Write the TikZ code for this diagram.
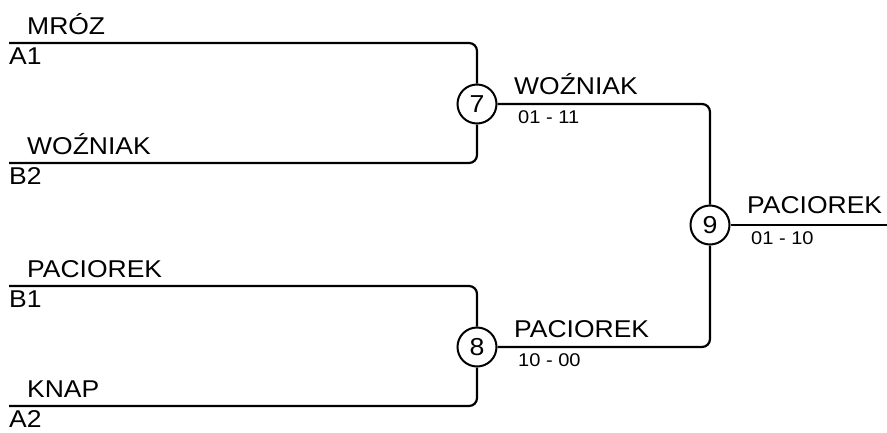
\documentclass[tikz,border=0pt]{standalone}
\usepackage{fontspec}
\setmainfont{Liberation Sans}
\newfontfamily\namefont[FakeStretch=1.09]{Liberation Sans}
\begin{document}
\begin{tikzpicture}[x=1pt,y=-1pt,
  wire/.style={line width=2.2pt, rounded corners=8pt},
  match/.style={circle, draw, line width=2pt, minimum size=39pt, inner sep=0pt, font=\namefont\fontsize{24.5}{26}\selectfont},
  player/.style={anchor=base west, inner sep=0pt, font=\namefont\fontsize{24.3}{26}\selectfont},
  seed/.style={anchor=base west, inner sep=0pt, font=\namefont\fontsize{24.3}{26}\selectfont},
  score/.style={anchor=base west, inner sep=0pt, font=\namefont\fontsize{18.4}{20}\selectfont}]
\useasboundingbox (0,0) rectangle (887,432);
% entry points
\coordinate (s1) at (9,43);
\coordinate (s2) at (9,163);
\coordinate (s3) at (9,286);
\coordinate (s4) at (9,406);
% matches
\node[match] (m7) at (477,104) {7};
\node[match] (m8) at (477,347) {8};
\node[match] (m9) at (710,225) {9};
\coordinate (fin) at (887,225);
% connectors
\draw[wire] (s1) -| (m7.north);
\draw[wire] (s2) -| (m7.south);
\draw[wire] (s3) -| (m8.north);
\draw[wire] (s4) -| (m8.south);
\draw[wire] (m7.east) -| (m9.north);
\draw[wire] (m8.east) -| (m9.south);
\draw[wire] (m9.east) -- (fin);
% player names
\node[player] (p1) at (27,34) {MRÓZ};
\node[player] (p2) at (27,154) {WOŹNIAK};
\node[player] (p3) at (27,277) {PACIOREK};
\node[player] (p4) at (27,397) {KNAP};
% seeds
\node[seed] (q1) at (9,64) {A1};
\node[seed] (q2) at (9,184) {B2};
\node[seed] (q3) at (9,307) {B1};
\node[seed] (q4) at (9,427) {A2};
% winners
\node[player] (w7) at (514,94) {WOŹNIAK};
\node[player] (w8) at (514,337) {PACIOREK};
\node[player] (w9) at (747,213) {PACIOREK};
% scores
\node[score] (r7) at (518,123) {01 - 11};
\node[score] (r8) at (518,366) {10 - 00};
\node[score] (r9) at (751,244) {01 - 10};
\end{tikzpicture}
\end{document}
